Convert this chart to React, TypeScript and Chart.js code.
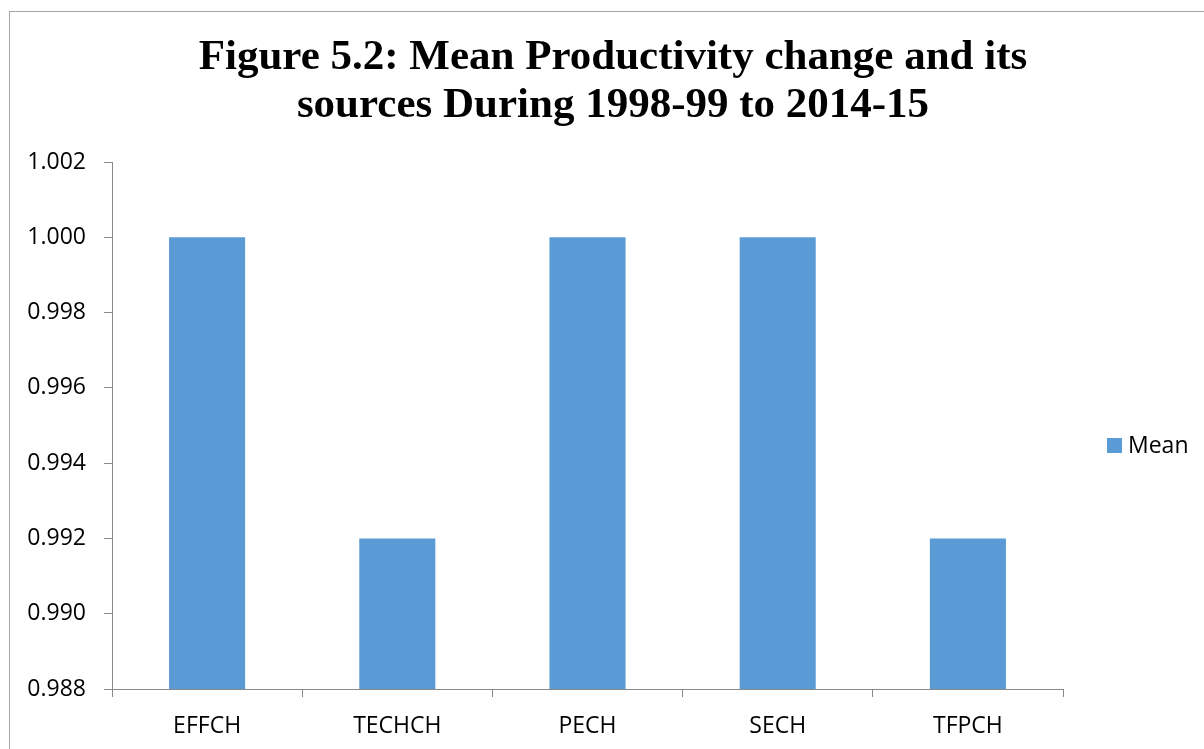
import React, { useEffect, useRef } from "react";
import { Chart, registerables } from "chart.js";

Chart.register(...registerables);

const titleLines = [
  "Figure 5.2: Mean Productivity change and its",
  "sources During 1998-99 to 2014-15",
];
const categories = ["EFFCH", "TECHCH", "PECH", "SECH", "TFPCH"];
const seriesName = "Mean";
const meanValues = [1.0, 0.992, 1.0, 1.0, 0.992];
const yMin = 0.988;
const yMax = 1.002;
const yStep = 0.002;

const barColor = "#5B9BD5";
const axisColor = "#898989";
const tickFont = { family: "'Open Sans'", size: 23 };

const sideLegend = {
  id: "sideLegend",
  afterDraw(chart: any) {
    const ctx = chart.ctx;
    const ds = chart.data.datasets[0];
    ctx.save();
    ctx.fillStyle = ds.backgroundColor;
    ctx.fillRect(1107, 438, 15, 15);
    ctx.font = "23px 'Open Sans'";
    ctx.fillStyle = "#000";
    ctx.textBaseline = "middle";
    ctx.textAlign = "left";
    ctx.fillText(ds.label, 1128, 446);
    ctx.restore();
  },
};

export default function App() {
  const ref = useRef<HTMLCanvasElement | null>(null);

  useEffect(() => {
    if (!ref.current) return;
    const chart = new Chart(ref.current, {
      type: "bar",
      data: {
        labels: categories,
        datasets: [
          {
            label: seriesName,
            data: meanValues,
            backgroundColor: barColor,
            borderWidth: 0,
            barPercentage: 0.4,
            categoryPercentage: 1,
          },
        ],
      },
      plugins: [sideLegend],
      options: {
        responsive: false,
        animation: false,
        devicePixelRatio: 1,
        layout: { padding: { left: 22, right: 0, top: 0, bottom: 0 } },
        plugins: {
          legend: { display: false },
          tooltip: { enabled: false },
          title: {
            display: true,
            text: titleLines,
            color: "#000",
            font: {
              family: "'Liberation Serif'",
              size: 43,
              weight: "bold",
              lineHeight: 48 / 43,
            },
            padding: { top: 34, bottom: 32 },
          },
        },
        scales: {
          x: {
            grid: {
              display: true,
              drawOnChartArea: false,
              drawTicks: true,
              tickLength: 8,
              color: axisColor,
              offset: true,
            },
            border: { display: true, color: axisColor, width: 1 },
            ticks: { color: "#000", font: tickFont, padding: 16 },
            afterFit: (s: any) => {
              s.height = 60;
            },
          },
          y: {
            min: yMin,
            max: yMax,
            grid: {
              display: true,
              drawOnChartArea: false,
              drawTicks: true,
              tickLength: 8,
              color: axisColor,
            },
            border: { display: true, color: axisColor, width: 1 },
            ticks: {
              stepSize: yStep,
              color: "#000",
              font: tickFont,
              padding: 18,
              callback: (v: any) => Number(v).toFixed(3),
            },
            afterFit: (s: any) => {
              s.width = 90;
            },
          },
          yR: {
            position: "right",
            display: true,
            grid: { display: false },
            border: { display: false },
            ticks: { display: false },
            afterFit: (s: any) => {
              s.width = 141;
            },
          },
        },
      },
    } as any);
    return () => chart.destroy();
  }, []);

  return (
    <div
      style={{
        position: "absolute",
        left: 0,
        top: 0,
        width: 1204,
        height: 749,
        overflow: "hidden",
        background: "#fff",
      }}
    >
      <canvas
        ref={ref}
        width={1204}
        height={749}
        style={{ position: "absolute", left: 0, top: 0, width: 1204, height: 749 }}
      />
      <div
        style={{
          position: "absolute",
          left: 9,
          top: 11,
          width: 1300,
          height: 800,
          border: "1px solid #a6a6a6",
          pointerEvents: "none",
        }}
      />
    </div>
  );
}
